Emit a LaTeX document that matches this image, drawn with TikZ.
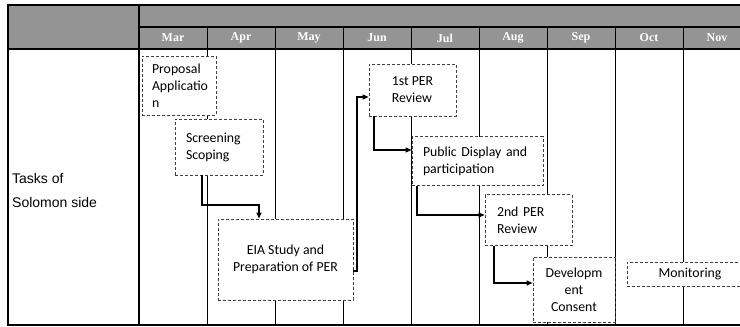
\documentclass[tikz,border=0pt]{standalone}
\usepackage{fontspec}
\setmainfont{Carlito}
\newfontfamily\arialf{Liberation Sans}
\newfontfamily\serf{Liberation Serif}
\usetikzlibrary{arrows.meta}
\lefthyphenmin=64
\begin{document}
\begin{tikzpicture}[x=1pt,y=-1pt,
  box/.style={draw=black!75, dash pattern=on 3pt off 2pt, line width=0.8pt, fill=white,
    inner ysep=0pt, font=\fontsize{13.8}{17}\selectfont},
  lbox/.style={box, align=left},
  cbox/.style={box, align=center},
  arr/.style={line width=1.1pt, -{Triangle[length=6pt,width=5pt]}},
  rule/.style={line width=1.3pt},
  col/.style={line width=1pt},
  mon/.style={font=\serf\bfseries\fontsize{12}{12}\selectfont, text=white}]
\useasboundingbox (0,0) rectangle (740,327);
\clip (0,0) rectangle (740,327);
% header
\fill[black!42] (8,5) rectangle (745,49);
\draw[rule] (745,5) -- (8,5) -- (8,325) -- (745,325);
\draw[rule] (139,27) -- (745,27);
\draw[rule] (8,49) -- (745,49);
\draw[rule] (139,5) -- (139,325);
\foreach \x in {207,275,343,411,479,547,615,683} \draw[col] (\x,27) -- (\x,325);
% months
\node[mon] (m1) at (173,38) {Mar};
\node[mon] (m2) at (241,38) {Apr};
\node[mon] (m3) at (309,38) {May};
\node[mon] (m4) at (377,38) {Jun};
\node[mon] (m5) at (445,38) {Jul};
\node[mon] (m6) at (513,38) {Aug};
\node[mon] (m7) at (581,38) {Sep};
\node[mon] (m8) at (649,38) {Oct};
\node[mon] (m9) at (717,38) {Nov};
% row label
\node[anchor=west, align=left, inner sep=0pt, font=\arialf\fontsize{14}{24}\selectfont] (tasks) at (12,190) {Tasks of\\Solomon side};
% boxes
\node[lbox, minimum width=74pt, minimum height=59pt, inner xsep=10pt, text width=54pt] (prop) at (179,85.5) {Proposal\\Applicatio\\n};
\node[lbox, minimum width=88pt, minimum height=56pt, inner xsep=11pt, text width=66pt] (scr) at (219,147) {Screening\\Scoping};
\node[cbox, minimum width=135pt, minimum height=81pt] (eia) at (285.5,259.5) {EIA Study and\\Preparation of PER};
\node[lbox, minimum width=87pt, minimum height=52pt] (per1) at (412.5,90) {1st PER\\Review};
\node[lbox, minimum width=131pt, minimum height=49pt, inner xsep=11pt, text width=109pt] (pd) at (477.5,161) {Public Display and\\participation};
\node[lbox, minimum width=87pt, minimum height=51pt, inner xsep=12pt, text width=63pt] (per2) at (528.5,220) {2nd PER\\Review};
\node[cbox, minimum width=82pt, minimum height=65pt] (dev) at (574,289.5) {Developm\\ent\\Consent};
\node[cbox, minimum width=126pt, minimum height=24pt] (monit) at (690,274) {Monitoring};
% connectors
\coordinate (t1) at (202,205);
\coordinate (t2) at (259,205);
\draw[arr] (scr.south -| t1) -- (t1) -- (t2) -- (eia.north -| t2);
\coordinate (t3) at (357,271);
\coordinate (t4) at (357,97);
\draw[arr] (eia.east |- t3) -- (t3) -- (t4) -- (per1.west |- t4);
\coordinate (t5) at (374,150);
\draw[arr] (per1.south -| t5) -- (t5) -- (pd.west |- t5);
\coordinate (t6) at (417,215);
\draw[arr] (pd.south -| t6) -- (t6) -- (per2.west |- t6);
\coordinate (t7) at (494,283);
\draw[arr] (per2.south -| t7) -- (t7) -- (dev.west |- t7);
\end{tikzpicture}
\end{document}
